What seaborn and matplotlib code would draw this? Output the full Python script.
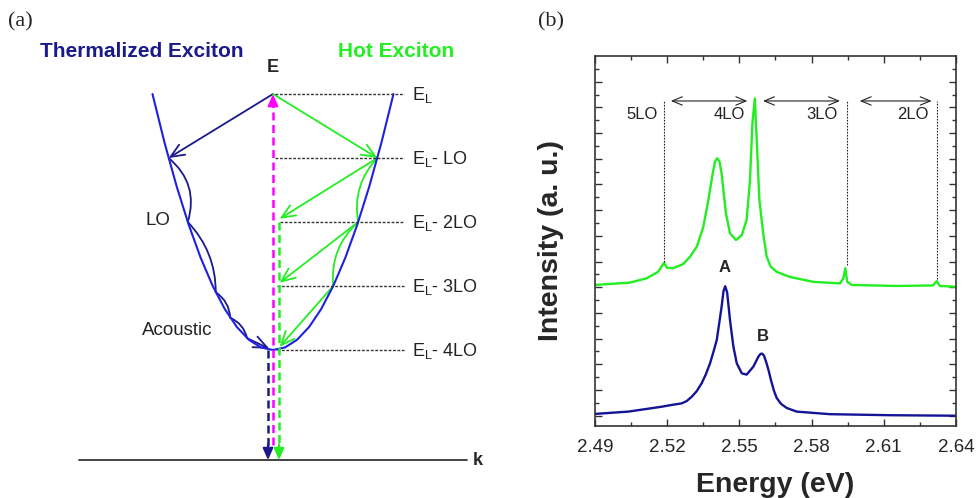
import numpy as np
import pandas as pd
import matplotlib
matplotlib.use('Agg')
import matplotlib.pyplot as plt
import seaborn as sns
from matplotlib.patches import FancyArrowPatch
from matplotlib.ticker import FixedLocator

# ---- panel (b): PL spectra ----
hot_energy = [2.4900, 2.5045, 2.5115, 2.5162, 2.5187, 2.5199, 2.5224, 2.5266, 2.5295, 2.5323,
              2.5350, 2.5371, 2.5389, 2.5399, 2.5408, 2.5417, 2.5426, 2.5444, 2.5461, 2.5486,
              2.5510, 2.5530, 2.5544, 2.5554, 2.5564, 2.5572, 2.5583, 2.5599, 2.5613, 2.5630,
              2.5655, 2.5710, 2.5807, 2.5918, 2.5932, 2.5940, 2.5948, 2.5967, 2.6154, 2.6304,
              2.6320, 2.6333, 2.6400]
hot_intensity = [5.49, 5.58, 5.75, 6.00, 6.35, 6.16, 6.14, 6.30, 6.59, 6.98,
                 7.75, 8.79, 9.83, 10.30, 10.42, 10.30, 9.83, 8.28, 7.50, 7.24,
                 7.43, 8.02, 9.57, 11.78, 12.75, 11.13, 8.79, 7.50, 6.60, 6.20,
                 6.00, 5.80, 5.61, 5.55, 5.75, 6.14, 5.61, 5.49, 5.45, 5.47,
                 5.64, 5.45, 5.42]

therm_energy = [2.4900, 2.5038, 2.5177, 2.5219, 2.5260, 2.5281, 2.5302, 2.5323, 2.5343, 2.5361,
                2.5378, 2.5392, 2.5406, 2.5415, 2.5426, 2.5434, 2.5441, 2.5449, 2.5461, 2.5475,
                2.5489, 2.5510, 2.5530, 2.5558, 2.5579, 2.5587, 2.5594, 2.5602, 2.5613, 2.5623,
                2.5631, 2.5644, 2.5655, 2.5673, 2.5697, 2.5738, 2.5876, 2.6126, 2.6400]
therm_intensity = [0.47, 0.56, 0.75, 0.82, 0.88, 0.97, 1.14, 1.36, 1.66, 2.02,
                   2.44, 2.88, 3.35, 3.93, 4.64, 5.25, 5.44, 5.20, 4.12, 3.09,
                   2.44, 2.05, 2.00, 2.31, 2.70, 2.80, 2.82, 2.74, 2.44, 2.10,
                   1.79, 1.36, 1.09, 0.86, 0.70, 0.56, 0.46, 0.42, 0.40]

peak_labels = ['A', 'B']
peak_label_x = [2.5437, 2.5599]
peak_label_y = [6.16, 3.50]

lo_labels = ['5LO', '4LO', '3LO', '2LO']
lo_label_x = [2.5094, 2.5457, 2.5843, 2.6221]
lo_label_y = 12.14
lo_line_x = [2.5187, 2.5946, 2.6322]
lo_line_bottom = [6.39, 6.26, 5.72]
lo_line_top = 12.65
lo_arrow_start = [2.5215, 2.5598, 2.6000]
lo_arrow_end = [2.5533, 2.5918, 2.6299]
energy_ticks = [2.49, 2.52, 2.55, 2.58, 2.61, 2.64]

# ---- panel (a): schematic, energy in LO units, k arbitrary ----
band_k = [-2.0, -1.8, -1.6, -1.4, -1.2, -1.0, -0.8, -0.6, -0.4, -0.2, 0.0,
          0.2, 0.4, 0.6, 0.8, 1.0, 1.2, 1.4, 1.6, 1.8, 2.0]
band_E = [4.0, 3.24, 2.56, 1.96, 1.44, 1.0, 0.64, 0.36, 0.16, 0.04, 0.0,
          0.04, 0.16, 0.36, 0.64, 1.0, 1.44, 1.96, 2.56, 3.24, 4.0]
level_E = [4, 3, 2, 1, 0]
level_start = [0.03, 0.04, 0.12, 0.07, 0.07]
level_names = [r'$\mathregular{E_L}$', r'$\mathregular{E_L}$- LO', r'$\mathregular{E_L}$- 2LO',
               r'$\mathregular{E_L}$- 3LO', r'$\mathregular{E_L}$- 4LO']
hot_k = [1.732, 1.414, 1.0]          # band points visited by the hot exciton
hot_E = [3, 2, 1]
therm_k = [-1.732, -1.414, -0.95, -0.71, -0.43]   # thermalization path
therm_E = [3, 2, 0.9025, 0.5041, 0.1849]
k_axis_E = -1.72

NAVY = '#1a1a8c'
BAND = '#2020e0'
GREEN = '#22ee22'
MAGENTA = '#ff00ff'

sns.set_theme(style='ticks')
plt.rcParams['font.family'] = ['Liberation Sans', 'DejaVu Sans']

fig = plt.figure(figsize=(9.77, 4.98), dpi=100)

# ================= panel (a) =================
axa = fig.add_axes([0, 0, 520 / 977, 1])
axa.set_xlim(-4.531, 4.10)
axa.set_ylim(-2.3125, 5.469)
axa.axis('off')

axa.plot(band_k, band_E, color=BAND, lw=1.5)
axa.plot([-3.22, 3.22], [k_axis_E, k_axis_E], color='#222222', lw=1.2)
axa.text(3.40, k_axis_E, 'k', fontsize=13, fontweight='bold', ha='center', va='center')
axa.text(0, 4.42, 'E', fontsize=13, fontweight='bold', ha='center', va='center')

for E, k0, name in zip(level_E, level_start, level_names):
    axa.plot([k0, 2.174], [E, E], color='#333333', lw=1.0, ls=(0, (2, 1.2)))
    axa.text(2.307, E - 0.1, name, fontsize=13, ha='left', va='baseline', color='#222222')

head = dict(shrinkA=0, shrinkB=0, mutation_scale=14)

def arrow(p0, p1, color, style='->, head_length=0.7, head_width=0.3', rad=0.0, lw=1.3):
    axa.add_patch(FancyArrowPatch(p0, p1, arrowstyle=style, color=color, lw=lw,
                                  connectionstyle=f'arc3,rad={rad}', **head))

# excitation (magenta, dashed, up)
axa.plot([0, 0], [-1.48, 3.85], color=MAGENTA, lw=1.8, ls=(0, (3.2, 1.8)))
arrow((0, 3.8), (0, 4.0), MAGENTA, style='-|>, head_length=0.5, head_width=0.22', lw=1.5)

# first LO emission from E_L
arrow((0, 4), (therm_k[0], therm_E[0]), NAVY)
arrow((0, 4), (hot_k[0], hot_E[0]), GREEN)

# thermalization along the band (navy arcs)
therm_rad = [-0.33, -0.2, -0.25, -0.25]
for i in range(len(therm_k) - 1):
    arrow((therm_k[i], therm_E[i]), (therm_k[i + 1], therm_E[i + 1]), NAVY, style='-',
          rad=therm_rad[i])
arrow((therm_k[-1], therm_E[-1]), (-0.06, 0.02), NAVY)

# hot exciton cascade (green)
for i in range(len(hot_k) - 1):
    arrow((hot_k[i], hot_E[i]), (hot_k[i + 1], hot_E[i + 1]), GREEN, style='-', rad=0.25)
for k, E in zip(hot_k, hot_E):
    arrow((k, E), (0.11, E - 0.95), GREEN)

# radiative recombination (dashed down arrows)
axa.plot([-0.083, -0.083], [0, k_axis_E + 0.2], color=NAVY, lw=1.8, ls=(0, (3.2, 1.8)))
arrow((-0.083, k_axis_E + 0.25), (-0.083, k_axis_E), NAVY,
      style='-|>, head_length=0.5, head_width=0.22', lw=1.5)
axa.plot([0.1, 0.1], [2, k_axis_E + 0.2], color=GREEN, lw=1.8, ls=(0, (3.2, 1.8)))
arrow((0.1, k_axis_E + 0.25), (0.1, k_axis_E), GREEN,
      style='-|>, head_length=0.5, head_width=0.22', lw=1.5)

axa.text(-2.174, 4.672, 'Thermalized Exciton', color=NAVY, fontsize=15, fontweight='bold',
         ha='center', va='center')
axa.text(2.04, 4.672, 'Hot Exciton', color=GREEN, fontsize=15, fontweight='bold',
         ha='center', va='center')
axa.text(-1.91, 2.03, 'LO', fontsize=13.5, ha='center', va='center', color='#222222')
axa.text(-1.585, 0.30, 'Acoustic', fontsize=13.5, ha='center', va='center', color='#222222')

# ================= panel (b) =================
axb = fig.add_axes([595 / 977, 72 / 498, 361 / 977, 370 / 498])
sns.lineplot(x=hot_energy, y=hot_intensity, ax=axb, color=GREEN, lw=1.7, estimator=None)
sns.lineplot(x=therm_energy, y=therm_intensity, ax=axb, color='#141496', lw=1.7, estimator=None)

axb.set_xlim(2.49, 2.64)
axb.set_ylim(0, 14.4)
axb.xaxis.set_major_locator(FixedLocator(energy_ticks))
axb.xaxis.set_minor_locator(FixedLocator(np.arange(2.505, 2.64, 0.03)))
axb.yaxis.set_major_locator(FixedLocator(np.arange(0.4, 14.4, 1.0)))
axb.yaxis.set_minor_locator(FixedLocator(np.arange(0.9, 14.4, 1.0)))
axb.set_xticklabels([f'{t:.2f}' for t in energy_ticks])
axb.tick_params(which='both', direction='in', top=True, right=True, labelleft=False,
                width=1.0, color='#333333')
axb.tick_params(which='major', length=5, labelsize=13.5, pad=9)
axb.tick_params(which='minor', length=3)
for s in axb.spines.values():
    s.set_linewidth(1.2)
    s.set_color('#333333')

axb.set_xlabel('Energy (eV)', fontsize=20.5, fontweight='bold', labelpad=12)
axb.set_ylabel('Intensity (a. u.)', fontsize=20.5, fontweight='bold', labelpad=22)

for x, y0 in zip(lo_line_x, lo_line_bottom):
    axb.plot([x, x], [y0, lo_line_top], color='#222222', lw=0.8, ls=(0, (1.5, 1.2)))
for x0, x1 in zip(lo_arrow_start, lo_arrow_end):
    axb.annotate('', xy=(x1, lo_line_top), xytext=(x0, lo_line_top),
                 arrowprops=dict(arrowstyle='<->, head_length=0.6, head_width=0.25',
                                 color='#222222', lw=0.8, shrinkA=0, shrinkB=0,
                                 mutation_scale=12))
for x, lab in zip(lo_label_x, lo_labels):
    axb.text(x, lo_label_y, lab, fontsize=12, ha='center', va='center', color='#222222')
for x, y, lab in zip(peak_label_x, peak_label_y, peak_labels):
    axb.text(x, y, lab, fontsize=12, fontweight='bold', ha='center', va='center')

fig.text(8 / 977, 1 - 22 / 498, '(a)', fontsize=16, family='Liberation Serif', va='center')
fig.text(538 / 977, 1 - 22 / 498, '(b)', fontsize=16, family='Liberation Serif', va='center')

fig.savefig('out.png', dpi=100)
